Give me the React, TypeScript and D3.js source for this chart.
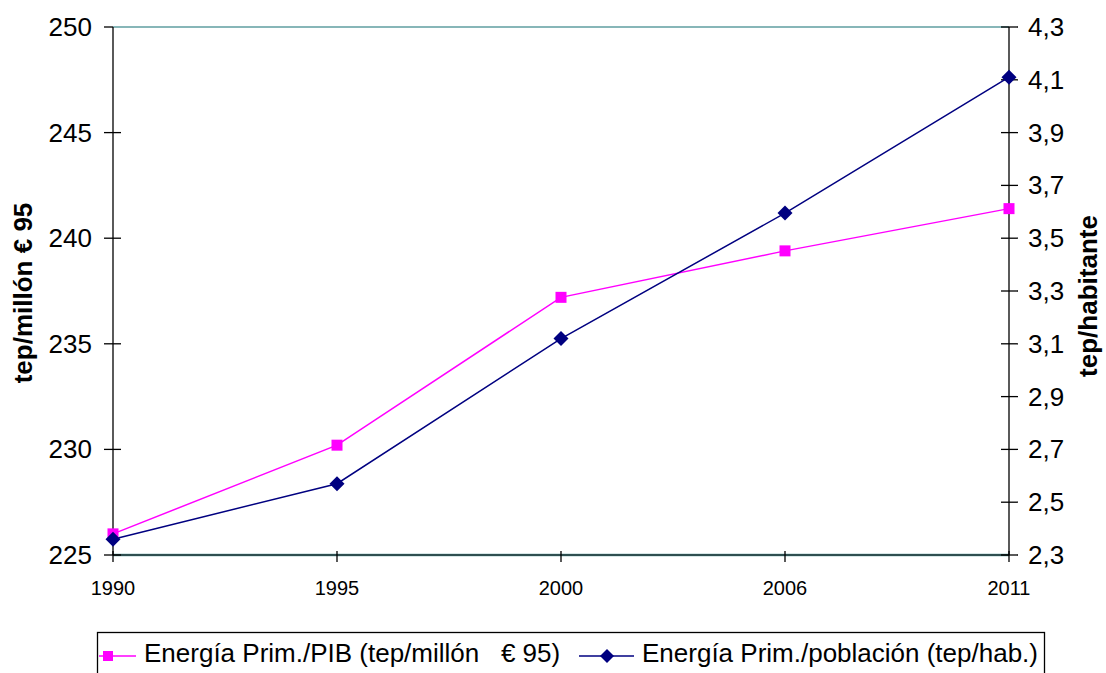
import React from "react";
import * as d3 from "d3";

const years = ["1990", "1995", "2000", "2006", "2011"];
const intensityPIB = [226.0, 230.2, 237.2, 239.4, 241.4];
const perCapita = [2.36, 2.57, 3.12, 3.595, 4.11];
const leftTicks = [225, 230, 235, 240, 245, 250];
const rightTicks = [2.3, 2.5, 2.7, 2.9, 3.1, 3.3, 3.5, 3.7, 3.9, 4.1, 4.3];
const seriesNames = ["Energía Prim./PIB (tep/millón   € 95)", "Energía Prim./población (tep/hab.)"];
const leftTitle = "tep/millón € 95";
const rightTitle = "tep/habitante";

const W = 1106, H = 673;
const L = 113, R = 1009, T = 27, B = 555;
const PINK = "#ff00ff", NAVY = "#000080";
const FONT = "'Liberation Sans', Arial, sans-serif";

export default function App() {
  const x = d3.scalePoint<string>().domain(years).range([L, R]);
  const yL = d3.scaleLinear().domain([225, 250]).range([B, T]);
  const yR = d3.scaleLinear().domain([2.3, 4.3]).range([B, T]);
  const lineL = d3.line<number>().x((_, i) => x(years[i])!).y((d) => yL(d));
  const lineR = d3.line<number>().x((_, i) => x(years[i])!).y((d) => yR(d));
  const diamond = (cx: number, cy: number, r: number) =>
    `M${cx},${cy - r}L${cx + r},${cy}L${cx},${cy + r}L${cx - r},${cy}Z`;
  const fmt = (v: number) => v.toFixed(1).replace(".", ",");

  return (
    <svg width={W} height={H} style={{ position: "absolute", left: 0, top: 0, background: "#fff" }} fontFamily={FONT}>
      <rect width={W} height={H} fill="#fff" />
      {/* gridlines top/bottom */}
      <line x1={L} x2={R} y1={yL(250)} y2={yL(250)} stroke="#5f9ea0" strokeWidth={1.5} />
      <line x1={L} x2={R} y1={B} y2={B} stroke="#5f9ea0" strokeWidth={2.5} />
      <line x1={L} x2={R} y1={B} y2={B} stroke="#000" strokeWidth={1} />
      {/* left axis */}
      <line x1={L} x2={L} y1={T} y2={B} stroke="#000" strokeWidth={1.3} />
      {leftTicks.map((t) => (
        <g key={"l" + t}>
          <line x1={L - 9} x2={t === 250 ? L : L + 8} y1={yL(t)} y2={yL(t)} stroke="#000" strokeWidth={1.3} />
          <text x={92} y={yL(t) + 9} textAnchor="end" fontSize={26}>{t}</text>
        </g>
      ))}
      {/* right axis */}
      <line x1={R} x2={R} y1={T} y2={B} stroke="#000" strokeWidth={1.3} />
      {rightTicks.map((t) => (
        <g key={"r" + t}>
          <line x1={R - 8} x2={R + 9} y1={yR(t)} y2={yR(t)} stroke="#000" strokeWidth={1.3} />
          <text x={1028} y={yR(t) + 9} textAnchor="start" fontSize={26}>{fmt(t)}</text>
        </g>
      ))}
      {/* x axis ticks */}
      {years.map((yr) => (
        <g key={yr}>
          <line x1={x(yr)!} x2={x(yr)!} y1={B - 4} y2={B + 7} stroke="#000" strokeWidth={1.3} />
          <text x={x(yr)!} y={595} textAnchor="middle" fontSize={20}>{yr}</text>
        </g>
      ))}
      {/* axis titles */}
      <text transform={`translate(32,293) rotate(-90)`} textAnchor="middle" fontSize={26} fontWeight="bold">{leftTitle}</text>
      <text transform={`translate(1097,296) rotate(-90)`} textAnchor="middle" fontSize={26} fontWeight="bold">{rightTitle}</text>
      {/* series */}
      <path d={lineL(intensityPIB)!} fill="none" stroke={PINK} strokeWidth={1.5} />
      <path d={lineR(perCapita)!} fill="none" stroke={NAVY} strokeWidth={1.5} />
      {intensityPIB.map((v, i) => (
        <rect key={"p" + i} x={x(years[i])! - 5.5} y={yL(v) - 5.5} width={11} height={11} fill={PINK} />
      ))}
      {perCapita.map((v, i) => (
        <path key={"n" + i} d={diamond(x(years[i])!, yR(v), 7.5)} fill={NAVY} />
      ))}
      {/* legend */}
      <rect x={97.5} y={632.5} width={947} height={60} fill="none" stroke="#000" strokeWidth={1.3} />
      <line x1={99} x2={136} y1={656} y2={656} stroke={PINK} strokeWidth={1.5} />
      <rect x={103} y={651} width={10} height={10} fill={PINK} />
      <text x={144} y={662} fontSize={26} style={{ whiteSpace: "pre" }}>{seriesNames[0]}</text>
      <line x1={579} x2={634} y1={656} y2={656} stroke={NAVY} strokeWidth={1.5} />
      <path d={diamond(607, 656, 7)} fill={NAVY} />
      <text x={642} y={662} fontSize={26}>{seriesNames[1]}</text>
    </svg>
  );
}
